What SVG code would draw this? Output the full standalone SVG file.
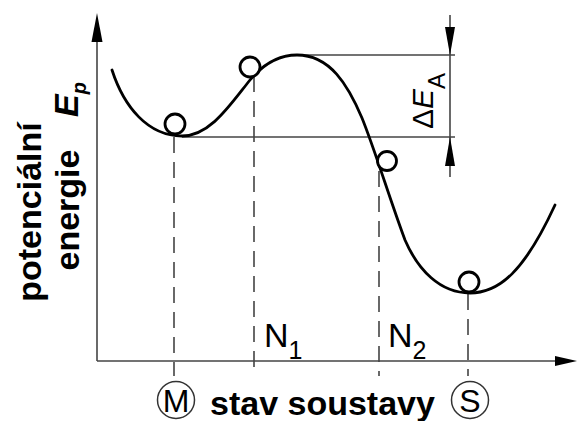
<svg xmlns="http://www.w3.org/2000/svg" width="577" height="421" viewBox="0 0 577 421">
<style>
.ax{stroke:#444;stroke-width:1.6;fill:none}
.dash{stroke:#444;stroke-width:1.6;fill:none;stroke-dasharray:16 9}
.curve{stroke:#000;stroke-width:2.8;fill:none;stroke-linecap:round}
.ball{fill:#fff;stroke:#000;stroke-width:2.8}
.ah{fill:#000}
.t{font-family:"Liberation Sans",Arial,sans-serif;fill:#000}
.b{font-weight:bold}
</style>
<rect width="577" height="421" fill="#fff"/>
<g id="connectors">
  <line class="ax" x1="97" y1="361" x2="97" y2="40"/>
  <polygon class="ah" points="97,13 91.5,42 102.5,42"/>
  <line class="ax" x1="97" y1="361" x2="556" y2="361"/>
  <polygon class="ah" points="577,361 555,356 555,366"/>
  <line class="ax" x1="297" y1="55" x2="455" y2="55"/>
  <line class="ax" x1="182" y1="137" x2="455" y2="137"/>
  <line class="ax" x1="450" y1="15" x2="450" y2="177"/>
  <polygon class="ah" points="450,55 445,27 455,27"/>
  <polygon class="ah" points="450,137 445,166 455,166"/>
  <line class="dash" x1="174" y1="137" x2="174" y2="376"/>
  <line class="dash" x1="254" y1="76" x2="254" y2="376"/>
  <line class="dash" x1="379" y1="171" x2="379" y2="376"/>
  <line class="dash" x1="468" y1="294" x2="468" y2="376"/>
  <path class="curve" d="M112,70 C124,107 148,136 182,136 C210,136 230,105 250,80 C265,62 280,55 297,55 C330,55 348,85 362,118 C375,150 390,200 405,240 C418,270 440,293 470,293 C500,293 525,270 555,205"/>
</g>
<g id="ball-M"><circle class="ball" cx="175" cy="124" r="10"/></g>
<g id="ball-N1"><circle class="ball" cx="250" cy="67" r="10"/></g>
<g id="ball-N2"><circle class="ball" cx="387" cy="161" r="9.5"/></g>
<g id="ball-S"><circle class="ball" cx="469" cy="282" r="10"/></g>
<g id="label-N1"><text class="t" x="264" y="347" font-size="34">N<tspan font-size="25" dy="12">1</tspan></text></g>
<g id="label-N2"><text class="t" x="388" y="347" font-size="34">N<tspan font-size="25" dy="12">2</tspan></text></g>
<g id="label-dEA"><text class="t" transform="translate(433,129) rotate(-90)" font-size="30">Δ<tspan font-style="italic">E</tspan><tspan font-size="24" dy="12">A</tspan></text></g>
<g id="label-yaxis">
  <text class="t b" transform="translate(41,212) rotate(-90)" font-size="34" text-anchor="middle">potenciální</text>
  <text class="t b" transform="translate(79,210) rotate(-90)" font-size="34" text-anchor="middle">energie</text>
  <text class="t b" transform="translate(78,117) rotate(-90)" font-size="34" font-style="italic">E<tspan font-size="20" dy="8">p</tspan></text>
</g>
<g id="label-xaxis">
  <circle cx="176" cy="400" r="18.5" fill="none" stroke="#333" stroke-width="1.5"/>
  <text class="t" x="176" y="412" font-size="32" text-anchor="middle">M</text>
  <text class="t b" x="210" y="415" font-size="34">stav soustavy</text>
  <circle cx="470" cy="400" r="18.5" fill="none" stroke="#333" stroke-width="1.5"/>
  <text class="t" x="470" y="412" font-size="32" text-anchor="middle">S</text>
</g>
</svg>
